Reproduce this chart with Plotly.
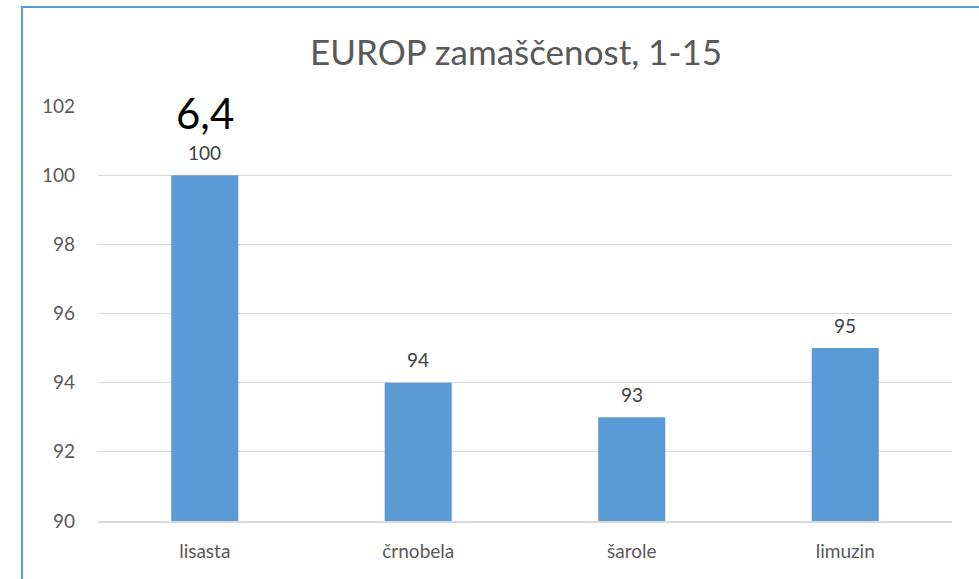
import plotly.graph_objects as go

categories = ["lisasta", "črnobela", "šarole", "limuzin"]
values = [100, 94, 93, 95]
y_ticks = [90, 92, 94, 96, 98, 100, 102]
title_text = "EUROP zamaščenost, 1-15"
extra_label = "6,4"

BLUE = "#5B9BD5"
GRAY = "#595959"
FONT = "Lato"

W, H = 979, 579
# plot area on screen
PL, PR, PT, PB = 98, 952, 106, 521
L, T, R, B = PL, PT, W - PR, H - PB
pw, ph = W - L - R, H - T - B

fig = go.Figure()
fig.add_trace(go.Bar(x=categories, y=values, marker=dict(color=BLUE, line=dict(width=0)),
                     width=0.314, hoverinfo="skip"))

for c, v in zip(categories, values):
    fig.add_annotation(x=c, y=v, text=str(v), showarrow=False, yshift=23,
                       font=dict(family=FONT, size=19, color="#404040"))

fig.add_annotation(x=categories[0], y=values[0], text=extra_label, showarrow=False, yshift=62,
                   font=dict(family=FONT, size=42, color="#000000"))

bx, by = 22, 7
fig.add_shape(type="rect", xref="paper", yref="paper",
              x0=(bx - L) / pw, x1=(W + 40 - L) / pw,
              y0=-(B + 40) / ph, y1=(H - B - by) / ph,
              line=dict(color=BLUE, width=2), fillcolor="rgba(0,0,0,0)", layer="above")

fig.update_layout(
    width=W, height=H,
    margin=dict(l=L, r=R, t=T, b=B, pad=0),
    paper_bgcolor="white", plot_bgcolor="white",
    showlegend=False,
    title=dict(text=title_text, x=516 / W, xanchor="center", y=1 - 53 / H, yanchor="middle",
               font=dict(family=FONT, size=35, color=GRAY)),
    font=dict(family=FONT, size=19, color=GRAY),
    xaxis=dict(showgrid=False, showline=True, linecolor="#D9D9D9", linewidth=1.5,
               ticks="", tickfont=dict(size=19, color=GRAY), ticklabelstandoff=12),
    yaxis=dict(range=[90, 102], tickvals=y_ticks, showgrid=True, gridcolor="#D9D9D9",
               gridwidth=1, zeroline=False, showline=False, ticks="",
               tickfont=dict(size=19, color=GRAY), ticklabelstandoff=22),
)

fig.write_html("out.html", config={"displayModeBar": False},
               post_script="document.body.style.margin='0';document.body.style.overflow='hidden';")
